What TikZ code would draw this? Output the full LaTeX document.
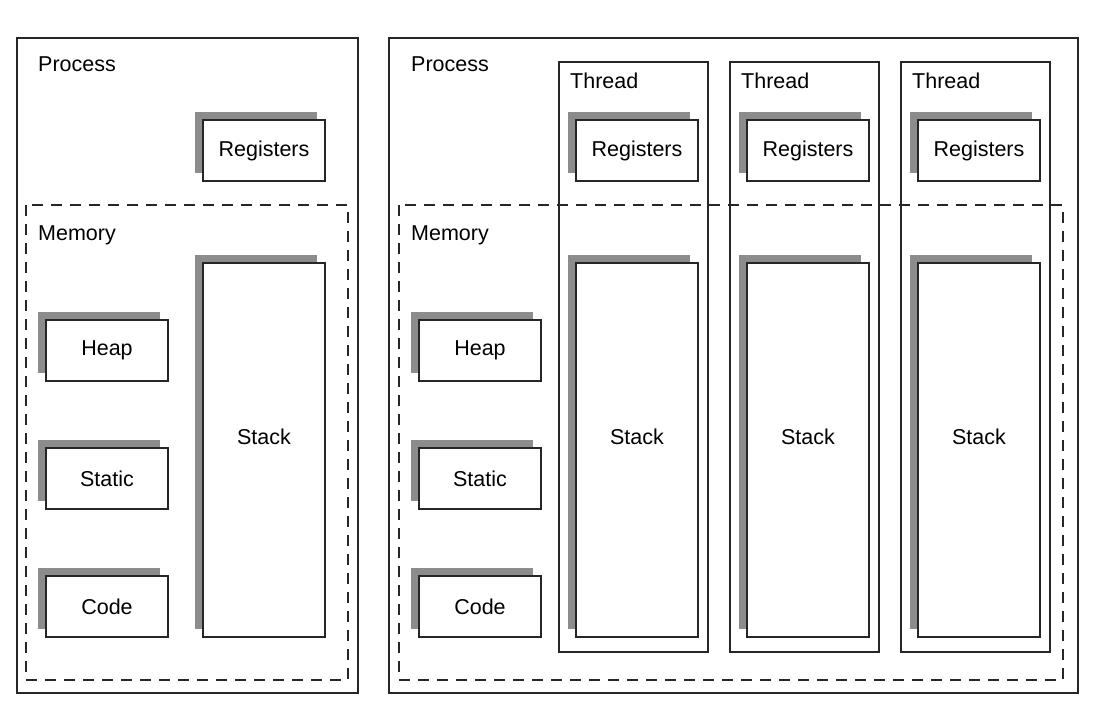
\documentclass[tikz,border=0pt]{standalone}
\usepackage{fontspec}
\setmainfont{Liberation Sans}
\begin{document}
\begin{tikzpicture}[x=1pt,y=-1pt,
  txt/.style={font=\fontsize{21.5}{25}\selectfont},
  frame/.style={draw=black!85,line width=1.6pt},
  memline/.style={draw=black!85,line width=1.6pt,dash pattern=on 11pt off 8pt},
  part/.style={txt,draw=black!85,fill=white,line width=1.6pt,minimum width=122pt,minimum height=61pt,inner sep=0pt,
    preaction={draw=none,fill=black!45,transform canvas={shift={(-8pt,8pt)}}}},
  tall/.style={part,minimum height=374pt},
  lbl/.style={txt,anchor=base west,inner sep=0pt}]
\useasboundingbox (0,0) rectangle (1096,714);

% single-threaded process
\node[frame,minimum width=341pt,minimum height=655pt,inner sep=0pt] (p1) at (187.5,365.5) {};
\node[lbl] (p1lbl) at (38,72) {Process};
\draw[memline] (26,205) rectangle (348,680);
\node[lbl] (m1lbl) at (38,241) {Memory};
\node[part] (reg1) at (264,150.5) {Registers};
\node[part] (heap1) at (107,350.5) {Heap};
\node[part] (static1) at (107,478.5) {Static};
\node[part] (code1) at (107,606.5) {Code};
\node[tall,label={[txt,yshift=13pt]center:Stack}] (stack1) at (264,450) {};

% multi-threaded process
\node[frame,minimum width=689pt,minimum height=655pt,inner sep=0pt] (p2) at (733.5,365.5) {};
\node[lbl] (p2lbl) at (411,72) {Process};
\node[lbl] (m2lbl) at (411,241) {Memory};
\node[part] (heap2) at (480,350.5) {Heap};
\node[part] (static2) at (480,478.5) {Static};
\node[part] (code2) at (480,606.5) {Code};

\foreach \i/\x in {1/559,2/730,3/901}{
  \node[frame,minimum width=149pt,minimum height=590pt,inner sep=0pt] (t\i) at (\x+74.5,357) {};
  \node[lbl] (t\i lbl) at (\x+11,89) {Thread};
  \node[part] (treg\i) at (\x+78,150.5) {Registers};
  \node[tall,label={[txt,yshift=13pt]center:Stack}] (tstack\i) at (\x+78,450) {};
}
\draw[memline] (399,205) rectangle (1063,680);
\end{tikzpicture}
\end{document}
